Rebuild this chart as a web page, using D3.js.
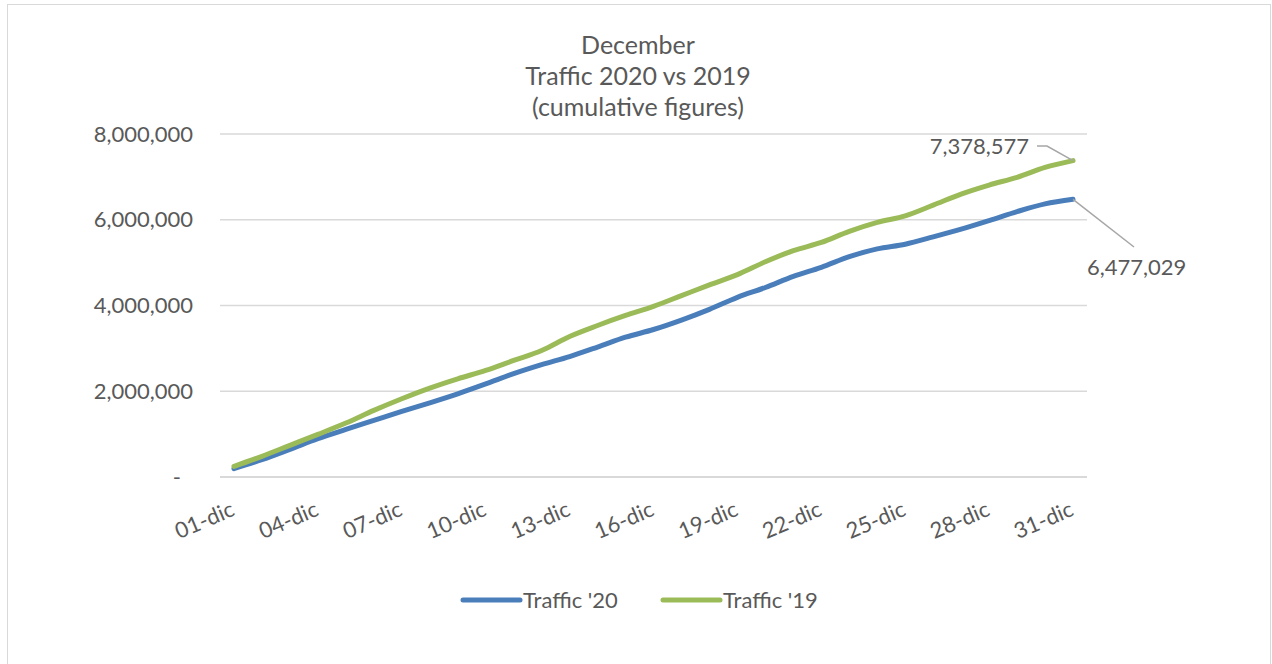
<!DOCTYPE html>
<html>
<head>
<meta charset="utf-8">
<script src="https://cdn.jsdelivr.net/npm/d3@7"></script>
<style>
  body { margin: 0; background: #fff; }
  svg text { font-family: Lato, "Open Sans", sans-serif; fill: #595959; }
</style>
</head>
<body>
<script>
const days = d3.range(1, 32).map((d) => d3.format('02')(d) + '-dic');

// cumulative traffic
const traffic_20 = [
  194000, 404000, 645000, 893000, 1110000, 1320000, 1530000, 1730000, 1940000, 2170000,
  2410000, 2620000, 2810000, 3030000, 3260000, 3440000, 3660000, 3910000, 4190000, 4420000,
  4680000, 4890000, 5140000, 5320000, 5430000, 5600000, 5780000, 5980000, 6190000, 6370000,
  6477029
];
const traffic_19 = [
  249000, 482000, 738000, 994000, 1258000, 1553000, 1825000, 2074000, 2291000, 2485000,
  2718000, 2951000, 3278000, 3534000, 3767000, 3980000, 4230000, 4480000, 4720000, 5020000,
  5280000, 5470000, 5730000, 5940000, 6090000, 6340000, 6600000, 6810000, 6990000, 7220000,
  7378577
];
const y_ticks = [0, 2000000, 4000000, 6000000, 8000000];
const title_lines = ['December', 'Traffic 2020 vs 2019', '(cumulative figures)'];

const series = [
  { name: "Traffic '20", values: traffic_20, color: '#4a7ebb' },
  { name: "Traffic '19", values: traffic_19, color: '#9bbb59' }
];

const width = 1272, height = 664;
const plot = { left: 220, right: 1087, top: 134, bottom: 477 };

const svg = d3.select('body').append('svg')
  .attr('width', width)
  .attr('height', height);

svg.append('rect')
  .attr('x', 7.5).attr('y', 4.5)
  .attr('width', 1263).attr('height', 670)
  .attr('fill', 'none')
  .attr('stroke', '#d9d9d9');

const x = d3.scaleBand().domain(days).range([plot.left, plot.right]);
const y = d3.scaleLinear().domain([0, 8000000]).range([plot.bottom, plot.top]);
const cx = (d) => x(d) + x.bandwidth() / 2;

// title
svg.append('g').selectAll('text')
  .data(title_lines)
  .enter()
  .append('text')
    .attr('x', 638)
    .attr('y', (d, i) => 54 + i * 31)
    .attr('text-anchor', 'middle')
    .style('font-size', '25px')
    .text((d) => d);

// gridlines
svg.append('g').selectAll('line')
  .data(y_ticks)
  .enter()
  .append('line')
    .attr('x1', plot.left).attr('x2', plot.right)
    .attr('y1', (d) => y(d)).attr('y2', (d) => y(d))
    .attr('stroke', '#d9d9d9')
    .attr('stroke-width', (d) => d === 0 ? 2 : 1.5);

// y labels
svg.append('g').selectAll('text')
  .data(y_ticks)
  .enter()
  .append('text')
    .attr('x', (d) => d === 0 ? 181 : 193)
    .attr('y', (d) => y(d))
    .attr('dy', '0.35em')
    .attr('text-anchor', 'end')
    .style('font-size', '22px')
    .text((d) => d === 0 ? '-' : d3.format(',')(d));

// x labels, every third day
svg.append('g').selectAll('text')
  .data(days.filter((d, i) => i % 3 === 0))
  .enter()
  .append('text')
    .attr('transform', (d) => `translate(${cx(d) + 2},${515}) rotate(-23)`)
    .attr('text-anchor', 'end')
    .style('font-size', '22px')
    .text((d) => d);

// lines
const line = d3.line()
  .x((d, i) => cx(days[i]))
  .y((d) => y(d))
  .curve(d3.curveMonotoneX);

svg.append('g').selectAll('path')
  .data(series)
  .enter()
  .append('path')
    .attr('d', (d) => line(d.values))
    .attr('fill', 'none')
    .attr('stroke', (d) => d.color)
    .attr('stroke-width', 5)
    .attr('stroke-linecap', 'round')
    .attr('stroke-linejoin', 'round');

// end labels with leader lines
const last = days[days.length - 1];
const end_labels = [
  { value: traffic_19[30], leader: [[1037, 146], [1047, 146]], tx: 1029, ty: 146, anchor: 'end' },
  { value: traffic_20[30], leader: [[1134, 247]], tx: 1087, ty: 267, anchor: 'start' }
];

svg.append('g').selectAll('path')
  .data(end_labels)
  .enter()
  .append('path')
    .attr('d', (d) => d3.line()([...d.leader, [cx(last), y(d.value)]]))
    .attr('fill', 'none')
    .attr('stroke', '#a6a6a6')
    .attr('stroke-width', 1.5);

svg.append('g').selectAll('text')
  .data(end_labels)
  .enter()
  .append('text')
    .attr('x', (d) => d.tx)
    .attr('y', (d) => d.ty)
    .attr('dy', '0.35em')
    .attr('text-anchor', (d) => d.anchor)
    .style('font-size', '22px')
    .text((d) => d3.format(',')(d.value));

// legend
const legend = svg.append('g').selectAll('g')
  .data(series)
  .enter()
  .append('g')
    .attr('transform', (d, i) => `translate(${463 + i * 200},600)`);

legend.append('line')
  .attr('x1', 0).attr('x2', 57)
  .attr('stroke', (d) => d.color)
  .attr('stroke-width', 5)
  .attr('stroke-linecap', 'round');

legend.append('text')
  .attr('x', 60)
  .attr('dy', '0.35em')
  .style('font-size', '22px')
  .text((d) => d.name);
</script>
</body>
</html>
